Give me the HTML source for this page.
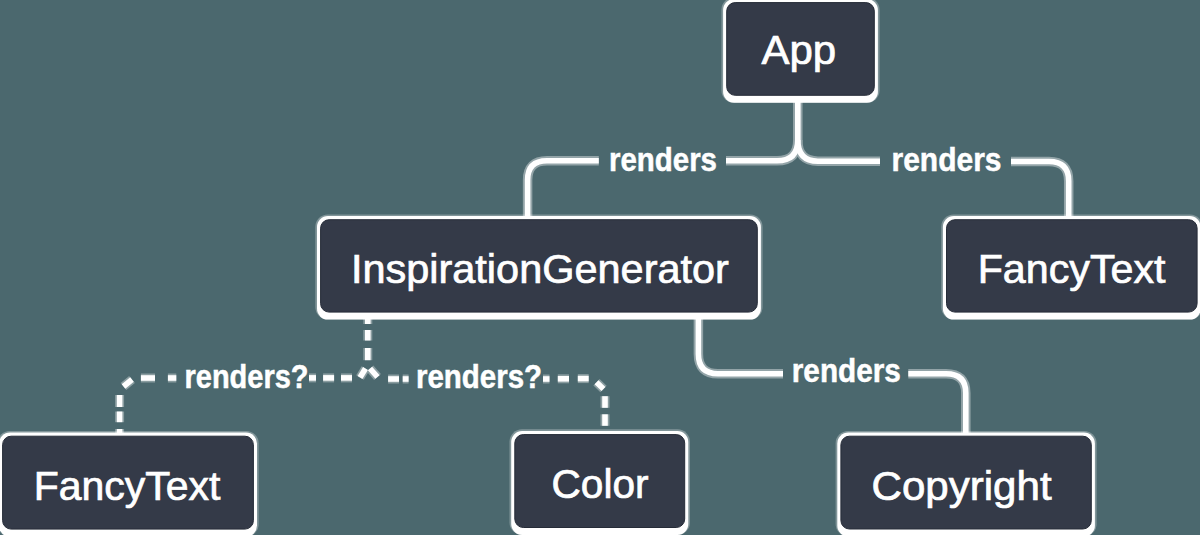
<!DOCTYPE html>
<html><head><meta charset="utf-8">
<style>
html,body{margin:0;padding:0;background:#4b686e;width:1200px;height:535px;overflow:hidden}
svg{display:block}
.bx{font-family:"Liberation Sans",sans-serif;font-size:40px;fill:#fff;stroke:#fff;stroke-width:0.7px}
.lb{font-family:"Liberation Sans",sans-serif;font-size:33px;font-weight:bold;fill:#fff;stroke:#fff;stroke-width:0.5px}
</style></head><body>
<svg width="1200" height="535" viewBox="0 0 1200 535">
<rect x="0" y="0" width="1200" height="535" fill="#4b686e"/>
<g fill="none" stroke="#fff" stroke-linecap="butt">
<g stroke-width="9.5" opacity="0.4"><path d="M797.8 100 V140 Q797.8 160.8 777 160.8 H726"/><path d="M598.8 160.8 H547 Q527.6 160.8 527.6 180 V220"/><path d="M797.8 140 Q797.8 161.2 818 161.2 H880"/><path d="M1011 161.5 H1049 Q1068.7 161.5 1068.7 181 V220"/><path d="M698.4 315 V354 Q698.4 373.7 718 373.7 H783"/><path d="M908.3 373.7 H946 Q965.8 373.7 965.8 393 V436"/></g>
<g stroke-width="5.6"><path d="M797.8 100 V140 Q797.8 160.8 777 160.8 H726"/><path d="M598.8 160.8 H547 Q527.6 160.8 527.6 180 V220"/><path d="M797.8 140 Q797.8 161.2 818 161.2 H880"/><path d="M1011 161.5 H1049 Q1068.7 161.5 1068.7 181 V220"/><path d="M698.4 315 V354 Q698.4 373.7 718 373.7 H783"/><path d="M908.3 373.7 H946 Q965.8 373.7 965.8 393 V436"/></g>
<g stroke-width="9" opacity="0.35"><path d="M367.8 318 V324"/><path d="M367.8 330 V340.5"/><path d="M367.8 348 V360.2"/><path d="M365.5 368.5 L360 377.5"/><path d="M370 368.5 L377.5 377"/><path d="M352 377.9 H341"/><path d="M334.1 377.9 H323.1"/><path d="M316 377.9 H309"/><path d="M176.3 378 H167.9"/><path d="M155 378 H140.9"/><path d="M132 379.5 L123.5 386.5"/><path d="M119.6 395 V407"/><path d="M119.6 411.5 V422.2"/><path d="M119.6 429 V434"/><path d="M388.1 379 H399"/><path d="M402.7 379 H408.6"/><path d="M543 379 H549.5"/><path d="M557.8 378.8 H569"/><path d="M577.8 378.6 H588.7"/><path d="M596.5 382.3 L603.5 389"/><path d="M605 396.2 V407.8"/><path d="M605 414.3 V425.8"/></g>
<g stroke-width="5.6"><path d="M367.8 318 V324"/><path d="M367.8 330 V340.5"/><path d="M367.8 348 V360.2"/><path d="M365.5 368.5 L360 377.5"/><path d="M370 368.5 L377.5 377"/><path d="M352 377.9 H341"/><path d="M334.1 377.9 H323.1"/><path d="M316 377.9 H309"/><path d="M176.3 378 H167.9"/><path d="M155 378 H140.9"/><path d="M132 379.5 L123.5 386.5"/><path d="M119.6 395 V407"/><path d="M119.6 411.5 V422.2"/><path d="M119.6 429 V434"/><path d="M388.1 379 H399"/><path d="M402.7 379 H408.6"/><path d="M543 379 H549.5"/><path d="M557.8 378.8 H569"/><path d="M577.8 378.6 H588.7"/><path d="M596.5 382.3 L603.5 389"/><path d="M605 396.2 V407.8"/><path d="M605 414.3 V425.8"/></g>
</g>
<rect x="721.4" y="-2.7" width="158.2" height="105.5" rx="12.5" fill="#fff" opacity="0.3"/>
<rect x="723.1" y="-1.0" width="154.8" height="103.8" rx="11" fill="#fff"/>
<rect x="726.7" y="2.6" width="147.6" height="92.7" rx="8.5" fill="#343a48" stroke="#262c38" stroke-width="1"/>
<rect x="315.3" y="214.4" width="447.3" height="105.2" rx="12.5" fill="#fff" opacity="0.3"/>
<rect x="317.0" y="216.1" width="443.9" height="103.5" rx="11" fill="#fff"/>
<rect x="320.6" y="219.7" width="436.7" height="92.4" rx="8.5" fill="#343a48" stroke="#262c38" stroke-width="1"/>
<rect x="941.2" y="214.4" width="261.2" height="105.2" rx="12.5" fill="#fff" opacity="0.3"/>
<rect x="942.9" y="216.1" width="257.8" height="103.5" rx="11" fill="#fff"/>
<rect x="946.5" y="219.7" width="250.6" height="92.4" rx="8.5" fill="#343a48" stroke="#262c38" stroke-width="1"/>
<rect x="-2.7" y="430.9" width="261.4" height="105.7" rx="12.5" fill="#fff" opacity="0.3"/>
<rect x="-1.0" y="432.6" width="258.0" height="104.0" rx="11" fill="#fff"/>
<rect x="2.6" y="436.2" width="250.8" height="92.9" rx="8.5" fill="#343a48" stroke="#262c38" stroke-width="1"/>
<rect x="509.5" y="429.3" width="180.5" height="105.7" rx="12.5" fill="#fff" opacity="0.3"/>
<rect x="511.2" y="431.0" width="177.1" height="104.0" rx="11" fill="#fff"/>
<rect x="514.8" y="434.6" width="169.9" height="92.9" rx="8.5" fill="#343a48" stroke="#262c38" stroke-width="1"/>
<rect x="835.6" y="430.9" width="261.0" height="105.6" rx="12.5" fill="#fff" opacity="0.3"/>
<rect x="837.3" y="432.6" width="257.6" height="103.9" rx="11" fill="#fff"/>
<rect x="840.9" y="436.2" width="250.4" height="92.8" rx="8.5" fill="#343a48" stroke="#262c38" stroke-width="1"/>
<g class="bx">
<text x="761.4" y="64.1" textLength="74.7" lengthAdjust="spacingAndGlyphs">App</text>
<text x="350.9" y="282.5" textLength="378" lengthAdjust="spacingAndGlyphs">InspirationGenerator</text>
<text x="977.7" y="282.9" textLength="187.8" lengthAdjust="spacingAndGlyphs">FancyText</text>
<text x="33.7" y="499.7" textLength="186.8" lengthAdjust="spacingAndGlyphs">FancyText</text>
<text x="551.5" y="498" textLength="97" lengthAdjust="spacingAndGlyphs">Color</text>
<text x="871.6" y="499.7" textLength="180" lengthAdjust="spacingAndGlyphs">Copyright</text>
</g>
<g class="lb">
<text x="609" y="170.7" textLength="108" lengthAdjust="spacingAndGlyphs">renders</text>
<text x="891.5" y="170.7" textLength="110" lengthAdjust="spacingAndGlyphs">renders</text>
<text x="791.8" y="381.8" textLength="109" lengthAdjust="spacingAndGlyphs">renders</text>
<text x="184.5" y="388" textLength="124" lengthAdjust="spacingAndGlyphs">renders?</text>
<text x="416" y="387.9" textLength="126" lengthAdjust="spacingAndGlyphs">renders?</text>
</g>
</svg>
</body></html>
